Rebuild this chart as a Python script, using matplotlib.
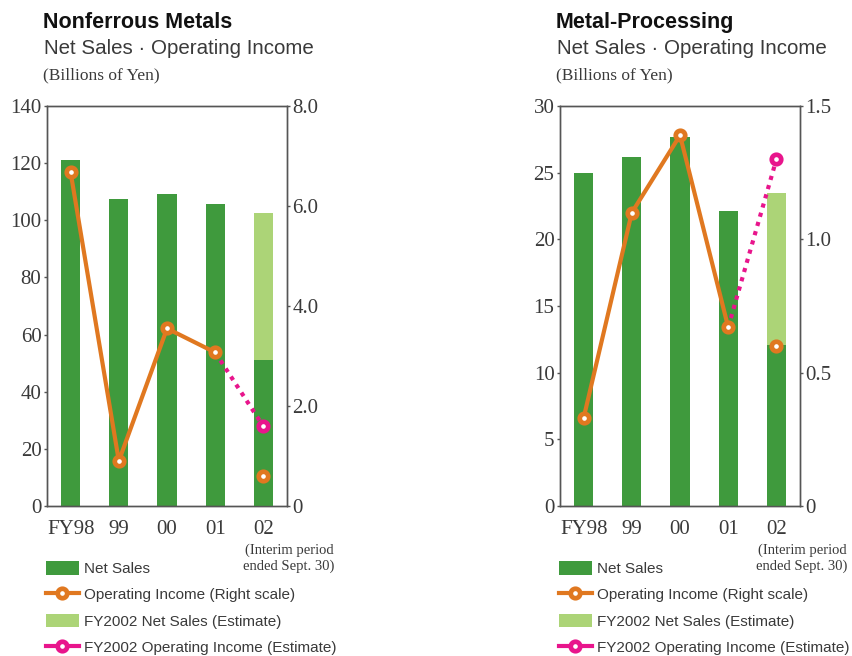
import matplotlib
matplotlib.use("Agg")
import matplotlib.pyplot as plt
from matplotlib.patches import Patch
from matplotlib.lines import Line2D

# fiscal years on the x axis
years = ["FY98", "99", "00", "01", "02"]

# Nonferrous Metals (billions of yen)
nonferrous_sales = [121.1, 107.5, 109.2, 105.7, 51.1]   # FY02 = interim
nonferrous_sales_est = 102.5
nonferrous_income = [6.67, 0.90, 3.55, 3.07, 0.60]      # FY02 = interim
nonferrous_income_est = 1.59

# Metal-Processing (billions of yen)
metal_sales = [25.0, 26.2, 27.7, 22.1, 12.1]
metal_sales_est = 23.5
metal_income = [0.33, 1.10, 1.39, 0.67, 0.60]
metal_income_est = 1.30

DARK_GREEN = "#3f9a3d"
LIGHT_GREEN = "#acd477"
ORANGE = "#e07820"
PINK = "#e8158c"
SPINE = "#555555"
TEXT = "#3a3a3a"

SERIF = "Liberation Serif"
SANS = "Liberation Sans"


def draw_panel(fig, left, title, sales, sales_est, income, income_est,
               ylim, yticks, ylim2, yticks2, yticklabels2):
    ax = fig.add_axes([left, 0.2287, 0.2817, 0.6098])
    x = list(range(len(years)))

    # actual net sales, then the full-year estimate behind the interim bar
    ax.bar(x[:-1], sales[:-1], width=0.4, color=DARK_GREEN, zorder=2)
    ax.bar(x[-1], sales_est, width=0.4, color=LIGHT_GREEN, zorder=2)
    ax.bar(x[-1], sales[-1], width=0.4, color=DARK_GREEN, zorder=3)

    ax.set_xlim(-0.49, 4.49)
    ax.set_ylim(*ylim)
    ax.set_yticks(yticks)
    ax.set_yticklabels([str(v) for v in yticks])
    ax.set_xticks(x)
    ax.set_xticklabels(years)

    ax2 = ax.twinx()
    ax2.set_ylim(*ylim2)
    ax2.set_yticks(yticks2)
    ax2.set_yticklabels(yticklabels2)

    marker_kw = dict(marker="o", markersize=6.8, markeredgewidth=3.4,
                     markerfacecolor="white")
    # estimate line from FY01 to FY02 full-year estimate
    ax2.plot([x[3], x[4]], [income[3], income_est], color=PINK, lw=3.0,
             linestyle=(0, (1, 1.3)), dash_capstyle="butt", zorder=2)
    ax2.plot(x[4], income_est, color=PINK, markeredgecolor=PINK,
             linestyle="none", zorder=4, **marker_kw)
    ax2.plot(x[:4], income[:4], color=ORANGE, lw=3.0,
             markeredgecolor=ORANGE, zorder=3, **marker_kw)
    ax2.plot(x[4], income[4], color=ORANGE, markeredgecolor=ORANGE,
             linestyle="none", zorder=3, **marker_kw)

    for a in (ax, ax2):
        for s in a.spines.values():
            s.set_color(SPINE)
            s.set_linewidth(1.0)
    ax.tick_params(axis="y", direction="out", length=2.5, width=1.0,
                   color=SPINE, pad=1.5, labelsize=15, labelcolor=TEXT)
    ax.tick_params(axis="x", length=0, pad=10, labelsize=15, labelcolor=TEXT)
    ax2.tick_params(axis="y", direction="out", length=2.5, width=1.0,
                    color=SPINE, pad=1.5, labelsize=15, labelcolor=TEXT)
    for lbl in ax.get_xticklabels() + ax.get_yticklabels() + ax2.get_yticklabels():
        lbl.set_fontfamily(SERIF)

    ax.text(1.008, -0.094, "(Interim period\nended Sept. 30)",
            transform=ax.transAxes, ha="center", va="top",
            fontsize=10.5, family=SERIF, color=TEXT, linespacing=1.25)

    # titles above the plot
    fx = left - 0.005
    fig.text(fx, 1 - 28 / 656, title, fontsize=15.5, fontweight="bold",
             family=SANS, color="#111111", va="baseline")
    fig.text(fx + 0.001, 1 - 54 / 656, "Net Sales \u00b7 Operating Income",
             fontsize=14.8, family=SANS, color=TEXT, va="baseline")
    fig.text(fx, 1 - 79 / 656, "(Billions of Yen)", fontsize=12.5,
             family=SERIF, color=TEXT, va="baseline")

    handles = [
        Patch(facecolor=DARK_GREEN, edgecolor="none"),
        Line2D([], [], color=ORANGE, lw=3, markeredgecolor=ORANGE, **marker_kw),
        Patch(facecolor=LIGHT_GREEN, edgecolor="none"),
        Line2D([], [], color=PINK, lw=3, markeredgecolor=PINK, **marker_kw),
    ]
    labels = ["Net Sales", "Operating Income (Right scale)",
              "FY2002 Net Sales (Estimate)",
              "FY2002 Operating Income (Estimate)"]
    leg = ax2.legend(handles, labels, loc="upper left",
                     bbox_to_anchor=(-0.004, -0.1375), frameon=False,
                     borderpad=0, borderaxespad=0, handlelength=2.15,
                     handleheight=1.0, handletextpad=0.33, labelspacing=0.74,
                     prop={"family": SANS, "size": 11}, numpoints=1)
    for t in leg.get_texts():
        t.set_color(TEXT)
    return ax, ax2


fig = plt.figure(figsize=(8.52, 6.56), dpi=100)

draw_panel(fig, 0.0552, "Nonferrous Metals", nonferrous_sales,
           nonferrous_sales_est, nonferrous_income, nonferrous_income_est,
           (0, 140), list(range(0, 141, 20)), (0, 8),
           [0, 2, 4, 6, 8], ["0", "2.0", "4.0", "6.0", "8.0"])

draw_panel(fig, 0.6573, "Metal-Processing", metal_sales,
           metal_sales_est, metal_income, metal_income_est,
           (0, 30), list(range(0, 31, 5)), (0, 1.5),
           [0, 0.5, 1.0, 1.5], ["0", "0.5", "1.0", "1.5"])

fig.savefig("out.png", dpi=100)
